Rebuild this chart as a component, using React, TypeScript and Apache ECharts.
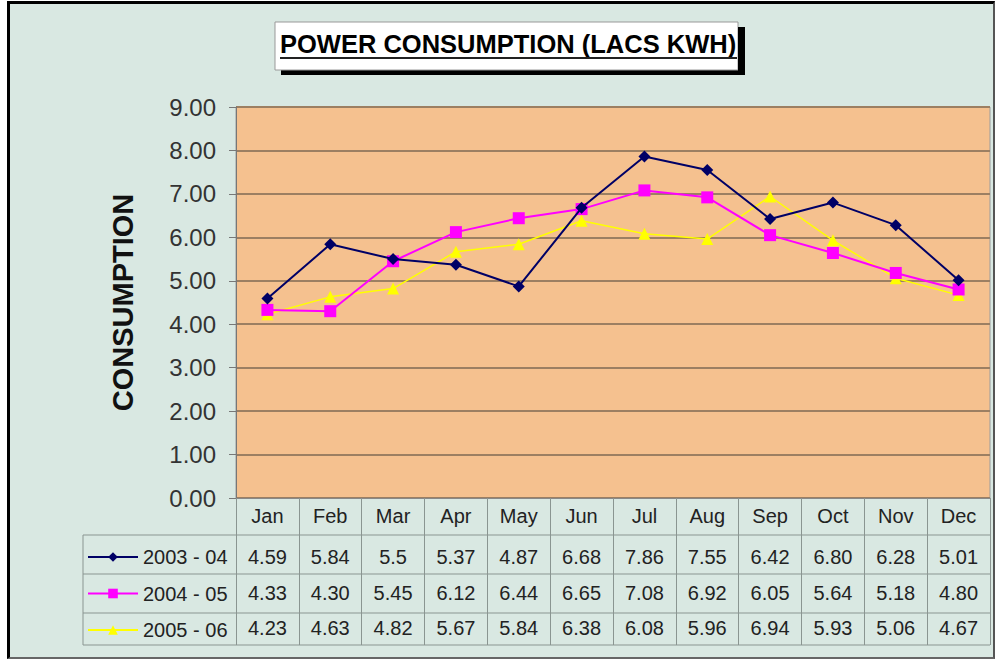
import React, { useEffect, useRef } from "react";
import * as echarts from "echarts";

const FONT = "'Liberation Sans', Arial, sans-serif";

const months = ["Jan", "Feb", "Mar", "Apr", "May", "Jun", "Jul", "Aug", "Sep", "Oct", "Nov", "Dec"];
const seriesNames = ["2003 - 04", "2004 - 05", "2005 - 06"];
const s0304 = ["4.59", "5.84", "5.5", "5.37", "4.87", "6.68", "7.86", "7.55", "6.42", "6.80", "6.28", "5.01"];
const s0405 = ["4.33", "4.30", "5.45", "6.12", "6.44", "6.65", "7.08", "6.92", "6.05", "5.64", "5.18", "4.80"];
const s0506 = ["4.23", "4.63", "4.82", "5.67", "5.84", "6.38", "6.08", "5.96", "6.94", "5.93", "5.06", "4.67"];
const yMin = 0;
const yMax = 9;
const yInterval = 1;

const colors = ["#000066", "#ff00ff", "#ffff00"];
const symbols = ["diamond", "rect", "triangle"];
const symbolSizes = [12, 12, 12];

export default function App() {
  const ref = useRef<HTMLDivElement>(null);
  useEffect(() => {
    const chart = echarts.init(ref.current!, null, { renderer: "svg" });
    const rows = [s0304, s0405, s0506];
    const rowOffsets = [41, 77, 112];
    const rowAxis = (labels: string[], offset: number) => ({
      type: "category",
      gridIndex: 0,
      position: "bottom",
      offset,
      data: labels,
      boundaryGap: true,
      axisLine: { show: false },
      axisTick: { show: false },
      splitLine: { show: false },
      axisLabel: { interval: 0, margin: 8, fontSize: 20, color: "#222", fontFamily: FONT },
    });
    const tableLine = "#8a9591";
    const option: any = {
      animation: false,
      backgroundColor: "transparent",
      grid: {
        left: 236,
        right: 5,
        top: 107,
        bottom: 162,
        show: true,
        backgroundColor: "#f5c18f",
        borderColor: "#9a9a9a",
        borderWidth: 1,
      },
      legend: {
        orient: "vertical",
        left: 87,
        top: 547,
        padding: 0,
        itemWidth: 50,
        itemHeight: 12,
        itemGap: 16.5,
        data: seriesNames,
        textStyle: { fontSize: 20, color: "#222", fontFamily: FONT },
      },
      xAxis: [
        {
          type: "category",
          data: months,
          boundaryGap: true,
          axisLine: { show: true, lineStyle: { color: "#888", width: 1 } },
          axisTick: { show: true, interval: 0, length: 147, lineStyle: { color: tableLine, width: 1 } },
          axisLabel: { interval: 0, margin: 8, fontSize: 20, color: "#222", fontFamily: FONT },
          splitLine: { show: false },
        },
        ...rows.map((r, i) => rowAxis(r, rowOffsets[i])),
      ],
      yAxis: {
        type: "value",
        min: yMin,
        max: yMax,
        interval: yInterval,
        name: "CONSUMPTION",
        nameLocation: "middle",
        nameRotate: 90,
        nameGap: 99,
        nameTextStyle: { fontSize: 29, fontWeight: "bold", color: "#111", fontFamily: FONT },
        axisLine: { show: true, lineStyle: { color: "#777", width: 1 } },
        axisTick: { show: true, length: 7, lineStyle: { color: "#777" } },
        axisLabel: {
          fontSize: 24,
          color: "#333",
          fontFamily: FONT,
          margin: 20,
          formatter: (v: number) => v.toFixed(2),
        },
        splitLine: { show: true, lineStyle: { color: "#9c7f62", width: 2 } },
      },
      series: rows.map((r, i) => ({
        name: seriesNames[i],
        type: "line",
        xAxisIndex: 0,
        data: r.map((s) => parseFloat(s)),
        symbol: symbols[i],
        symbolSize: symbolSizes[i],
        showAllSymbol: true,
        lineStyle: { color: colors[i], width: i === 2 ? 1.5 : 2 },
        itemStyle: { color: colors[i] },
        z: 3 - i + 2,
      })),
      graphic: [
        { type: "rect", shape: { x: 281, y: 27, width: 464, height: 48 }, style: { fill: "#000" } },
        { type: "rect", shape: { x: 275, y: 22, width: 463, height: 48 }, style: { fill: "#fff", stroke: "#999", lineWidth: 1 } },
        {
          type: "text",
          style: {
            text: "POWER CONSUMPTION (LACS KWH)",
            x: 280,
            y: 44,
            align: "left",
            verticalAlign: "middle",
            font: "bold 25.5px 'Liberation Sans', Arial, sans-serif",
            fill: "#000",
          },
        },
        { type: "line", shape: { x1: 280, y1: 58, x2: 737, y2: 58 }, style: { stroke: "#222", lineWidth: 2 } },
        { type: "rect", shape: { x: 738, y: 27, width: 7, height: 48 }, style: { fill: "#000" } },
        { type: "line", shape: { x1: 83, y1: 535, x2: 990, y2: 535 }, style: { stroke: tableLine, lineWidth: 1 } },
        { type: "line", shape: { x1: 83, y1: 574, x2: 990, y2: 574 }, style: { stroke: tableLine, lineWidth: 1 } },
        { type: "line", shape: { x1: 83, y1: 613, x2: 990, y2: 613 }, style: { stroke: tableLine, lineWidth: 1 } },
        { type: "line", shape: { x1: 83, y1: 645, x2: 990, y2: 645 }, style: { stroke: tableLine, lineWidth: 1 } },
        { type: "line", shape: { x1: 83, y1: 535, x2: 83, y2: 645 }, style: { stroke: tableLine, lineWidth: 1 } },
      ],
    };
    chart.setOption(option);
    return () => chart.dispose();
  }, []);
  return (
    <div style={{ position: "fixed", left: 0, top: 0, width: 995, height: 660, background: "#fff" }}>
      <div
        style={{
          position: "absolute",
          left: 7,
          top: 1,
          width: 983,
          height: 653,
          background: "#d9e8e2",
          borderLeft: "3px solid #000",
          borderTop: "3px solid #000",
          borderRight: "2px solid #555",
          borderBottom: "2px solid #666",
        }}
      />
      <div ref={ref} style={{ position: "absolute", left: 0, top: 0, width: 995, height: 660 }} />
    </div>
  );
}
